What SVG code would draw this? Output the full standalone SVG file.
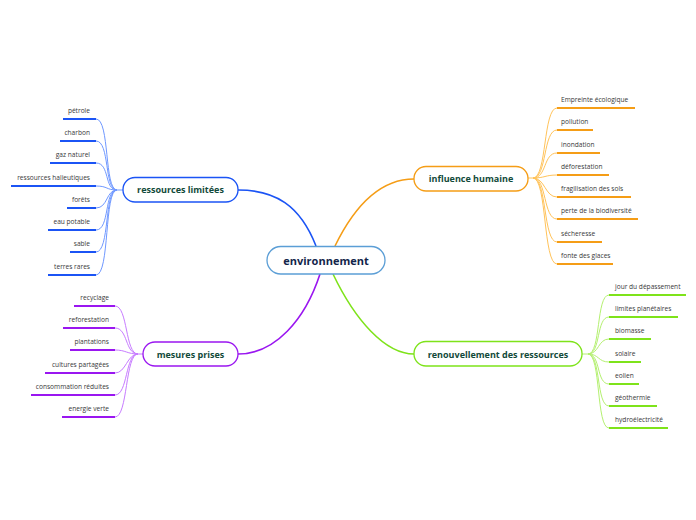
<svg xmlns="http://www.w3.org/2000/svg" width="696" height="520" viewBox="0 0 696 520">
<style>
.node rect{fill:#fff;stroke-width:1.3}
.ntext{font-family:"Open Sans","Noto Sans",sans-serif;font-weight:bold;font-size:9px;fill:#124a3a;text-anchor:middle}
.leaf{font-family:"Open Sans","Noto Sans",sans-serif;font-size:6.6px;fill:#383838;stroke:none}
.l{text-anchor:end}
.ul{stroke-width:2;fill:none}
.c{fill:none;stroke-width:1}
.m{fill:none;stroke-width:1.6}
.blue{stroke:#1b54f5}.blueL{stroke:#6f98ff}
.orange{stroke:#f59d16}.orangeL{stroke:#ffc35a}
.purple{stroke:#9a16f0}.purpleL{stroke:#c77bff}
.green{stroke:#7ee31a}.greenL{stroke:#b4f070}
</style>
<rect width="696" height="520" fill="#fff"/>
<g id="connectors">
<path class="m blue" d="M316,246 C300,205 275,190 238,190"/>
<path class="m orange" d="M335,246 C355,205 380,179 414,179"/>
<path class="m purple" d="M320,274 C305,320 275,354 238,354"/>
<path class="m green" d="M333,274 C355,320 385,354 414,354"/>
<g class="blueL">
<path class="c" d="M123,190 L117,190"/>
<path class="c" d="M96,119 C110,119 104,190 117,190"/>
<path class="c" d="M96,141 C110,141 104,190 117,190"/>
<path class="c" d="M96,163 C110,163 104,190 117,190"/>
<path class="c" d="M96,186 C108,186 106,190 117,190"/>
<path class="c" d="M96,208 C108,208 106,190 117,190"/>
<path class="c" d="M96,230 C110,230 104,190 117,190"/>
<path class="c" d="M96,252 C110,252 104,190 117,190"/>
<path class="c" d="M96,275 C110,275 104,190 117,190"/>
</g>
<g class="orangeL">
<path class="c" d="M528,178 L533,178"/>
<path class="c" d="M557,108 C543,108 547,178 533,178"/>
<path class="c" d="M557,130 C543,130 547,178 533,178"/>
<path class="c" d="M557,153 C543,153 547,178 533,178"/>
<path class="c" d="M557,175 C545,175 545,178 533,178"/>
<path class="c" d="M557,197 C545,197 545,178 533,178"/>
<path class="c" d="M557,219 C543,219 547,178 533,178"/>
<path class="c" d="M557,242 C543,242 547,178 533,178"/>
<path class="c" d="M557,264 C543,264 547,178 533,178"/>
</g>
<g class="purpleL">
<path class="c" d="M143,354 L138,354"/>
<path class="c" d="M115,306 C128,306 125,354 138,354"/>
<path class="c" d="M115,328 C128,328 125,354 138,354"/>
<path class="c" d="M115,350 C126,350 127,354 138,354"/>
<path class="c" d="M115,373 C126,373 127,354 138,354"/>
<path class="c" d="M115,395 C128,395 125,354 138,354"/>
<path class="c" d="M115,417 C128,417 125,354 138,354"/>
</g>
<g class="greenL">
<path class="c" d="M582,354 L588,354"/>
<path class="c" d="M609,295 C596,295 601,354 588,354"/>
<path class="c" d="M609,317 C596,317 601,354 588,354"/>
<path class="c" d="M609,339 C598,339 599,354 588,354"/>
<path class="c" d="M609,362 C598,362 599,354 588,354"/>
<path class="c" d="M609,384 C596,384 601,354 588,354"/>
<path class="c" d="M609,406 C596,406 601,354 588,354"/>
<path class="c" d="M609,428 C596,428 601,354 588,354"/>
</g>
</g>
<g id="environnement" class="node">
<rect x="267" y="246.5" width="118" height="27.5" rx="13.7" stroke="#5b9ed6"/>
<text x="326" y="264.5" class="ntext" style="font-size:11px;fill:#13254a">environnement</text>
</g>
<g id="ressources-limitees" class="node">
<rect x="123" y="177.5" width="115" height="24.5" rx="12" stroke="#1b54f5"/>
<text x="180.5" y="193" class="ntext">ressources limitées</text>
</g>
<g id="influence-humaine" class="node">
<rect x="414" y="166.5" width="114" height="24.5" rx="12" stroke="#f59d16"/>
<text x="471" y="182" class="ntext">influence humaine</text>
</g>
<g id="mesures-prises" class="node">
<rect x="143" y="342" width="95" height="24" rx="12" stroke="#9a16f0"/>
<text x="190.5" y="357.5" class="ntext">mesures prises</text>
</g>
<g id="renouvellement" class="node">
<rect x="414" y="341.5" width="168" height="24.5" rx="12" stroke="#7ee31a"/>
<text x="498" y="357.5" class="ntext">renouvellement des ressources</text>
</g>
<g id="leaves-ressources">
<g id="petrole"><text x="90" y="113" class="leaf l">pétrole</text><path class="ul blue" d="M63,119H96"/></g>
<g id="charbon"><text x="90" y="135" class="leaf l">charbon</text><path class="ul blue" d="M60,141H96"/></g>
<g id="gaz-naturel"><text x="90" y="157" class="leaf l">gaz naturel</text><path class="ul blue" d="M50,163H96"/></g>
<g id="halieutiques"><text x="90" y="180" class="leaf l">ressources halieutiques</text><path class="ul blue" d="M11,186H96"/></g>
<g id="forets"><text x="90" y="202" class="leaf l">forêts</text><path class="ul blue" d="M67,208H96"/></g>
<g id="eau-potable"><text x="90" y="224" class="leaf l">eau potable</text><path class="ul blue" d="M48,230H96"/></g>
<g id="sable"><text x="90" y="246" class="leaf l">sable</text><path class="ul blue" d="M70,252H96"/></g>
<g id="terres-rares"><text x="90" y="269" class="leaf l">terres rares</text><path class="ul blue" d="M48,275H96"/></g>
</g>
<g id="leaves-influence">
<g id="empreinte"><text x="561" y="102" class="leaf">Empreinte écologique</text><path class="ul orange" d="M557,108H635"/></g>
<g id="pollution"><text x="561" y="124" class="leaf">pollution</text><path class="ul orange" d="M557,130H593"/></g>
<g id="inondation"><text x="561" y="147" class="leaf">inondation</text><path class="ul orange" d="M557,153H600"/></g>
<g id="deforestation"><text x="561" y="169" class="leaf">déforestation</text><path class="ul orange" d="M557,175H609"/></g>
<g id="fragilisation"><text x="561" y="191" class="leaf">fragilisation des sols</text><path class="ul orange" d="M557,197H631"/></g>
<g id="biodiversite"><text x="561" y="213" class="leaf">perte de la biodiversité</text><path class="ul orange" d="M557,219H638"/></g>
<g id="secheresse"><text x="561" y="236" class="leaf">sécheresse</text><path class="ul orange" d="M557,242H602"/></g>
<g id="fonte"><text x="561" y="258" class="leaf">fonte des glaces</text><path class="ul orange" d="M557,264H613"/></g>
</g>
<g id="leaves-mesures">
<g id="recyclage"><text x="109" y="300" class="leaf l">recyclage</text><path class="ul purple" d="M74,306H115"/></g>
<g id="reforestation"><text x="109" y="322" class="leaf l">reforestation</text><path class="ul purple" d="M63,328H115"/></g>
<g id="plantations"><text x="109" y="344" class="leaf l">plantations</text><path class="ul purple" d="M70,350H115"/></g>
<g id="cultures"><text x="109" y="367" class="leaf l">cultures partagées</text><path class="ul purple" d="M45,373H115"/></g>
<g id="consommation"><text x="109" y="389" class="leaf l">consommation réduites</text><path class="ul purple" d="M31,395H115"/></g>
<g id="energie"><text x="109" y="411" class="leaf l">energie verte</text><path class="ul purple" d="M62,417H115"/></g>
</g>
<g id="leaves-renouvellement">
<g id="jour"><text x="615" y="289" class="leaf">jour du dépassement</text><path class="ul green" d="M609,295H686"/></g>
<g id="limites"><text x="615" y="311" class="leaf">limites planétaires</text><path class="ul green" d="M609,317H678"/></g>
<g id="biomasse"><text x="615" y="333" class="leaf">biomasse</text><path class="ul green" d="M609,339H651"/></g>
<g id="solaire"><text x="615" y="356" class="leaf">solaire</text><path class="ul green" d="M609,362H641"/></g>
<g id="eolien"><text x="615" y="378" class="leaf">eolien</text><path class="ul green" d="M609,384H639"/></g>
<g id="geothermie"><text x="615" y="400" class="leaf">géothermie</text><path class="ul green" d="M609,406H657"/></g>
<g id="hydro"><text x="615" y="422" class="leaf">hydroélectricité</text><path class="ul green" d="M609,428H668"/></g>
</g>
</svg>
